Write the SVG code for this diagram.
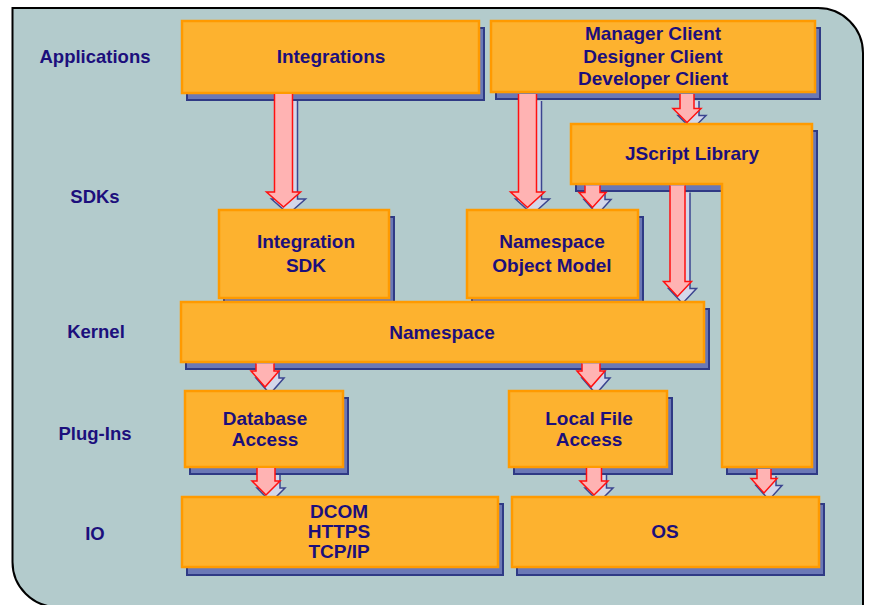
<svg xmlns="http://www.w3.org/2000/svg" width="870" height="605" viewBox="0 0 870 605">
  <defs>
    <style>
      .panel { fill: #b3cbcc; stroke: #000; stroke-width: 2; }
      .box { fill: #fdb22f; stroke: #ff9a00; stroke-width: 2.5; }
      .shadow { fill: #6b78b6; stroke: #2f3a85; stroke-width: 2; }
      .arrow { fill: #ffb3b3; stroke: #ff1010; stroke-width: 1.5; stroke-linejoin: miter; }
      .arrow-shadow { fill: #d3d7ea; stroke: #3b4590; stroke-width: 1.5; }
      text { font-family: "Liberation Sans", Arial, sans-serif; font-weight: bold; font-size: 19px; fill: #1c0f7c; text-anchor: middle; }
      .layer { font-size: 18.5px; }
    </style>
  </defs>

  <!-- background panel -->
  <path class="panel" d="M12.5,8 H818 A45,45 0 0 1 863,53 V607 H57.5 A45,45 0 0 1 12.5,562 Z"/>

  <!-- layer labels -->
  <g id="layer-labels">
    <text class="layer" x="95" y="63">Applications</text>
    <text class="layer" x="95" y="203">SDKs</text>
    <text class="layer" x="96" y="338">Kernel</text>
    <text class="layer" x="95" y="440">Plug-Ins</text>
    <text class="layer" x="95" y="540">IO</text>
  </g>

  <!-- drop shadows of the connectors (tucked under the boxes) -->
  <g id="connector-shadows" class="arrow-shadow" transform="translate(5,7)">
    <path d="M274.5,94 V192 H266.5 L283.5,207 L300.5,192 H292.5 V94"/>
    <path d="M518.5,94 V192 H510.5 L527.5,207.5 L544.5,192 H536.5 V94"/>
    <path d="M680,94 V108.5 H673 L687,122.5 L701,108.5 H694 V94"/>
    <path d="M585,185.5 V192.5 H579 L592.5,207.5 L606,192.5 H600 V185.5"/>
    <path d="M670,185.5 V281.5 H663.5 L677.5,296.5 L691.5,281.5 H685 V185.5"/>
    <path d="M256,363.5 V371 H251 L265,387 L279,371 H274 V363.5"/>
    <path d="M582,363.5 V371 H577 L591,387 L605,371 H600 V363.5"/>
    <path d="M257,468 V481 H252 L266,495 L280,481 H275 V468"/>
    <path d="M586.5,468 V481 H580 L594,495 L608,481 H601.5 V468"/>
    <path d="M757,469 V478.5 H751 L764,493 L777,478.5 H771 V469"/>
  </g>

  <!-- nodes -->
  <g id="integrations">
    <rect class="shadow" x="187" y="28" width="297" height="72"/>
    <rect class="box" x="182" y="21" width="297" height="72"/>
    <text x="331" y="63">Integrations</text>
  </g>

  <g id="clients">
    <rect class="shadow" x="496" y="28" width="324" height="71"/>
    <rect class="box" x="491" y="21" width="324" height="71"/>
    <text x="653" y="40">Manager Client</text>
    <text x="653" y="62.5">Designer Client</text>
    <text x="653" y="85">Developer Client</text>
  </g>

  <g id="jscript-library">
    <path class="shadow" d="M576,131 H817 V474 H727 V191 H576 Z"/>
    <path class="box" d="M571,124 H812 V467 H722 V184 H571 Z"/>
    <text x="692" y="160">JScript Library</text>
  </g>

  <g id="integration-sdk">
    <rect class="shadow" x="224" y="217" width="170" height="88"/>
    <rect class="box" x="219" y="210" width="170" height="88"/>
    <text x="306" y="248">Integration</text>
    <text x="306" y="272">SDK</text>
  </g>

  <g id="namespace-object-model">
    <rect class="shadow" x="472" y="217" width="171" height="88"/>
    <rect class="box" x="467" y="210" width="171" height="88"/>
    <text x="552" y="248">Namespace</text>
    <text x="552" y="272">Object Model</text>
  </g>

  <g id="namespace">
    <rect class="shadow" x="186" y="309" width="523" height="60"/>
    <rect class="box" x="181" y="302" width="523" height="60"/>
    <text x="442" y="339">Namespace</text>
  </g>

  <g id="database-access">
    <rect class="shadow" x="190" y="398" width="158" height="76"/>
    <rect class="box" x="185" y="391" width="158" height="76"/>
    <text x="265" y="425">Database</text>
    <text x="265" y="446">Access</text>
  </g>

  <g id="local-file-access">
    <rect class="shadow" x="514" y="398" width="158" height="76"/>
    <rect class="box" x="509" y="391" width="158" height="76"/>
    <text x="589" y="425">Local File</text>
    <text x="589" y="446">Access</text>
  </g>

  <g id="network-io">
    <rect class="shadow" x="187" y="504" width="316" height="71"/>
    <rect class="box" x="182" y="497" width="316" height="70"/>
    <text x="339" y="518">DCOM</text>
    <text x="339" y="538">HTTPS</text>
    <text x="339" y="558">TCP/IP</text>
  </g>

  <g id="os">
    <rect class="shadow" x="517" y="504" width="307" height="71"/>
    <rect class="box" x="512" y="497" width="307" height="70"/>
    <text x="665" y="538">OS</text>
  </g>

  <!-- connectors: open paths so no stroke is drawn across the base -->
  <g id="connectors" class="arrow">
    <path d="M274.5,94 V192 H266.5 L283.5,207 L300.5,192 H292.5 V94"/>
    <path d="M518.5,94 V192 H510.5 L527.5,207.5 L544.5,192 H536.5 V94"/>
    <path d="M680,94 V108.5 H673 L687,122.5 L701,108.5 H694 V94"/>
    <path d="M585,185.5 V192.5 H579 L592.5,207.5 L606,192.5 H600 V185.5"/>
    <path d="M670,185.5 V281.5 H663.5 L677.5,296.5 L691.5,281.5 H685 V185.5"/>
    <path d="M256,363.5 V371 H251 L265,387 L279,371 H274 V363.5"/>
    <path d="M582,363.5 V371 H577 L591,387 L605,371 H600 V363.5"/>
    <path d="M257,468 V481 H252 L266,495 L280,481 H275 V468"/>
    <path d="M586.5,468 V481 H580 L594,495 L608,481 H601.5 V468"/>
    <path d="M757,469 V478.5 H751 L764,493 L777,478.5 H771 V469"/>
  </g>
</svg>
